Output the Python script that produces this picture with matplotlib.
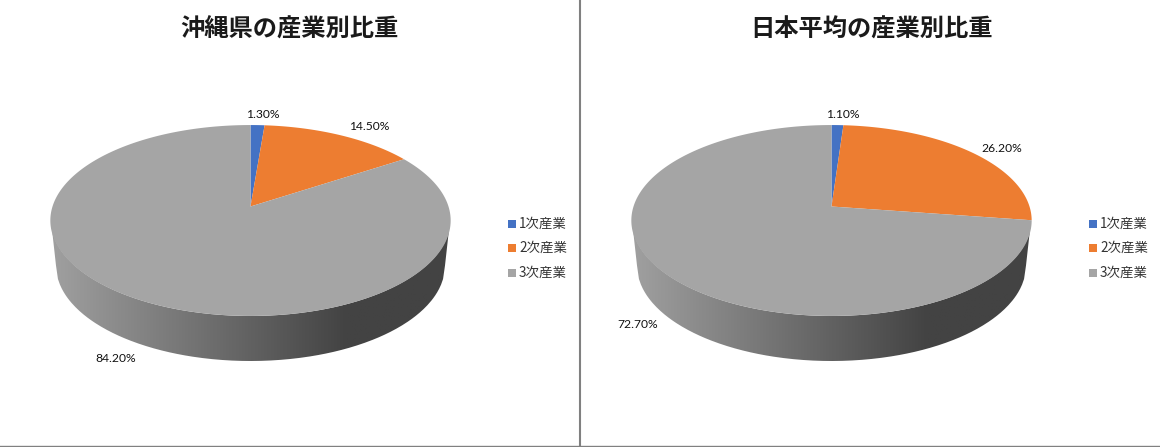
import numpy as np
import matplotlib
matplotlib.use('Agg')
import matplotlib.pyplot as plt
from matplotlib.patches import Polygon, Rectangle, PathPatch
from matplotlib.path import Path
from matplotlib.colors import LinearSegmentedColormap

plt.rcParams['font.family'] = ['Noto Sans CJK JP', 'DejaVu Sans']

# values
categories = ['1次産業', '2次産業', '3次産業']
okinawa_shares = [1.3, 14.5, 84.2]
japan_shares = [1.1, 26.2, 72.7]
colors = ['#4472C4', '#ED7D31', '#A5A5A5']

WIDTH, HEIGHT = 1160, 447
APEX_Y = 206.5


def project(t, cx):
    # tilted disc: angle t from 12 o'clock, apex is not the ellipse middle
    u, v = np.sin(t), np.cos(t)
    d = 1 + 0.1466 * v
    return cx + 198 * u / d, APEX_Y - 93.4 * v / d


def draw_side(ax, cx):
    # front wall of the disc, shaded with a horizontal gradient
    xs = np.linspace(-1, 1, 200)
    top_y = 220.5 + 95.5 * np.sqrt(1 - xs ** 2)
    bot_y = 265.5 + 95.5 * np.sqrt(1 - xs ** 2)
    top_x = cx + 199.5 * xs
    bot_x = cx + 194.5 * xs
    pts = np.vstack([np.column_stack([top_x, top_y]),
                     np.column_stack([bot_x, bot_y])[::-1]])
    grad = LinearSegmentedColormap.from_list(
        'side', [(0, '#a0a0a0'), (0.74, '#434343'), (1, '#434343')])
    im = ax.imshow(np.linspace(0, 1, 256).reshape(1, -1), cmap=grad, aspect='auto',
                   extent=(cx - 200, cx + 200, 370, 215), zorder=1)
    im.set_clip_path(PathPatch(Path(pts), transform=ax.transData))


def draw_pie(ax, cx, shares, title, title_x, label_pos):
    draw_side(ax, cx)
    start = 0.0
    for share, color in zip(shares, colors):
        t = np.radians(np.linspace(start, start + share, 300) * 3.6)
        x, y = project(t, cx)
        ax.add_patch(Polygon(np.vstack([[cx, APEX_Y], np.column_stack([x, y])]),
                             fc=color, ec='none', zorder=2))
        start += share
    for share, (lx, ly) in zip(shares, label_pos):
        ax.text(lx, ly, f'{share:.2f}%', ha='center', va='center', fontsize=8.7,
                color='#111111', family=['Lato', 'DejaVu Sans'], zorder=3)
    ax.text(title_x, 29.5, title, ha='center', va='center', fontsize=17.5,
            fontweight='bold', color='#1a1a1a')


def draw_legend(ax, x, ys):
    for name, color, y in zip(categories, colors, ys):
        ax.add_patch(Rectangle((x, y - 4), 8, 8, fc=color, ec='none'))
        ax.text(x + 11, y, name, ha='left', va='center', fontsize=9.7, color='#333333')


fig = plt.figure(figsize=(WIDTH / 100, HEIGHT / 100), dpi=100)
ax = fig.add_axes([0, 0, 1, 1])

draw_pie(ax, 250.5, okinawa_shares, '沖縄県の産業別比重', 289,
         [(263, 114), (369, 127), (116, 358)])
draw_pie(ax, 831.5, japan_shares, '日本平均の産業別比重', 871,
         [(843, 114), (1002, 149), (638, 325)])
draw_legend(ax, 508, [224, 248, 272.5])
draw_legend(ax, 1089, [224, 248, 272.5])

# panel borders
ax.plot([579.5, 579.5], [0, HEIGHT], color='#808080', lw=1.5, zorder=4)
ax.plot([0, WIDTH], [446, 446], color='#808080', lw=1, zorder=4)

ax.set_xlim(0, WIDTH)
ax.set_ylim(HEIGHT, 0)
ax.axis('off')
fig.savefig('out.png', dpi=100)
